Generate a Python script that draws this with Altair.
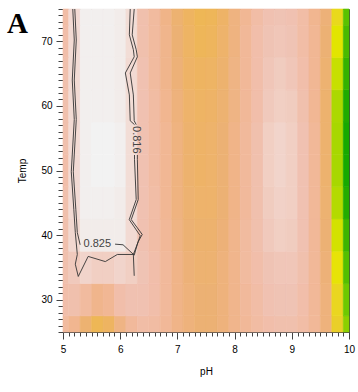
import altair as alt
import pandas as pd

# pH grid nodes (columns) and temperature nodes (rows)
ph_values = [5.0, 5.2, 5.4, 5.6, 5.8, 6.0, 6.2, 6.4, 6.6, 6.8, 7.0, 7.2, 7.4,
             7.6, 7.8, 8.0, 8.2, 8.4, 8.6, 8.8, 9.0, 9.2, 9.4, 9.6, 9.8, 10.0]
temp_values = [25, 30, 35, 40, 45, 50, 55, 60, 65, 70, 75]

# response surface, one list per temperature row
z_t25 = [.808, .804, .796, .788, .791, .801, .807, .810, .809, .806, .802, .799, .797, .797, .799, .803, .806, .809, .811, .812, .812, .810, .806, .799, .774, .742]
z_t30 = [.811, .812, .808, .803, .805, .811, .813, .813, .811, .807, .802, .799, .797, .797, .799, .803, .807, .810, .813, .814, .814, .811, .806, .799, .771, .735]
z_t35 = [.812, .816, .820, .818, .818, .820, .818, .814, .811, .807, .802, .798, .796, .796, .799, .803, .808, .811, .814, .815, .815, .812, .806, .798, .766, .725]
z_t40 = [.812, .821, .828, .828, .828, .828, .822, .813, .810, .806, .801, .797, .795, .795, .798, .803, .808, .812, .816, .818, .817, .813, .806, .797, .760, .715]
z_t45 = [.812, .822, .829, .829, .829, .828, .823, .813, .810, .805, .800, .796, .794, .794, .797, .802, .807, .812, .817, .819, .818, .813, .806, .796, .752, .706]
z_t50 = [.811, .822, .829, .830, .830, .829, .823, .813, .809, .805, .800, .795, .793, .794, .797, .802, .807, .812, .818, .820, .818, .813, .806, .795, .749, .703]
z_t55 = [.812, .822, .829, .830, .830, .829, .823, .813, .809, .805, .800, .795, .793, .794, .797, .802, .807, .812, .818, .820, .818, .813, .806, .795, .749, .703]
z_t60 = [.812, .822, .829, .829, .829, .828, .823, .813, .809, .804, .799, .794, .792, .793, .796, .801, .806, .811, .816, .818, .817, .812, .805, .795, .750, .705]
z_t65 = [.812, .822, .829, .829, .829, .828, .822, .813, .808, .803, .798, .793, .791, .792, .795, .801, .806, .811, .815, .817, .815, .811, .805, .796, .757, .712]
z_t70 = [.811, .822, .829, .829, .829, .828, .823, .812, .808, .803, .797, .792, .789, .790, .794, .800, .806, .811, .814, .815, .814, .810, .805, .797, .764, .720]
z_t75 = [.810, .822, .829, .829, .829, .828, .823, .812, .808, .802, .796, .791, .788, .789, .793, .800, .805, .810, .813, .814, .813, .810, .804, .798, .770, .728]
z_rows = [z_t25, z_t30, z_t35, z_t40, z_t45, z_t50, z_t55, z_t60, z_t65, z_t70, z_t75]

# contour polylines (pH, Temp)
c816_a_ph = [5.171, 5.197, 5.162, 5.197, 5.145, 5.189, 5.215, 5.25, 5.215, 5.267, 5.44, 5.74, 5.95, 6.23, 6.245]
c816_a_t = [75, 70.2, 64.0, 57.9, 49.8, 44.0, 40.4, 37.0, 35.5, 33.6, 36.7, 35.9, 37.0, 37.0, 33.7]
c816_b_ph = [6.23, 6.316, 6.385, 6.193, 6.315, 6.30, 6.30]
c816_b_t = [37.0, 39.0, 40.1, 42.4, 45.5, 51.7, 52.4]
c816_c_ph = [6.28, 6.245, 6.23, 6.175, 6.30, 6.28, 6.21, 6.245]
c816_c_t = [57.1, 57.7, 61.7, 65.1, 67.6, 68.7, 71.0, 75]
c825_a_ph = [5.206, 5.232, 5.197, 5.232, 5.18, 5.224, 5.25, 5.30]
c825_a_t = [75, 70.2, 64.0, 57.9, 49.8, 44.0, 40.4, 38.5]
c825_b_ph = [5.91, 6.05, 6.245, 6.30, 6.35, 6.158, 6.28, 6.25, 6.25]
c825_b_t = [38.6, 38.5, 36.9, 38.6, 39.9, 42.4, 45.5, 51.7, 52.4]
c825_c_ph = [6.25, 6.175, 6.16, 6.09, 6.245, 6.23, 6.16, 6.175]
c825_c_t = [57.1, 57.7, 61.7, 65.1, 67.6, 68.7, 71.0, 75]

labels_text = ["0.825", "0.816"]
labels_ph = [5.60, 6.28]
labels_t = [38.55, 54.75]

x_ticks = [round(5 + i * 0.1, 1) for i in range(51)]
y_ticks = list(range(25, 76))

# build tables
rows = []
for t, zr in zip(temp_values, z_rows):
    for p, z in zip(ph_values, zr):
        rows.append({
            "ph": max(5.0, p - 0.1), "ph_hi": min(10.0, p + 0.1),
            "temp": max(25.0, t - 2.5), "temp_hi": min(75.0, t + 2.5), "z": z,
        })
grid = pd.DataFrame(rows)

segs = []
for name, phs, ts in [("816a", c816_a_ph, c816_a_t), ("816b", c816_b_ph, c816_b_t),
                      ("816c", c816_c_ph, c816_c_t), ("825a", c825_a_ph, c825_a_t),
                      ("825b", c825_b_ph, c825_b_t), ("825c", c825_c_ph, c825_c_t)]:
    for i, (p, t) in enumerate(zip(phs, ts)):
        segs.append({"seg": name, "i": i, "ph": p, "temp": t})
cont = pd.DataFrame(segs)

lab = pd.DataFrame({"text": labels_text, "ph": labels_ph, "temp": labels_t})

xs = alt.Scale(domain=[5, 10], nice=False, zero=False)
ys = alt.Scale(domain=[25, 75], nice=False, zero=False)
cs = alt.Scale(domain=[0.700, 0.7325, 0.765, 0.78125, 0.7975, 0.81375, 0.830],
               range=["#00A600", "#63C600", "#E6E600", "#E9BD3A", "#ECB176", "#EFC2B3", "#F2F2F2"],
               clamp=True)

x_axis = alt.Axis(
    values=x_ticks, title="pH", grid=False, labelOverlap=False, labelFlush=False,
    labelExpr="datum.value % 1 === 0 ? format(datum.value, 'd') : ''",
    tickSize={"condition": {"test": "datum.value % 1 === 0", "value": 7}, "value": 4},
    labelPadding=5, titlePadding=12,
)
y_axis = alt.Axis(
    values=y_ticks, title="Temp", grid=False, labelOverlap=False, labelFlush=False,
    labelExpr="datum.value % 10 === 0 ? format(datum.value, 'd') : ''",
    tickSize={"condition": {"test": "datum.value % 10 === 0", "value": 7}, "value": 5},
    labelPadding=4, titlePadding=13,
)

X = alt.X("ph:Q", scale=xs, axis=x_axis, title="pH")
Y = alt.Y("temp:Q", scale=ys, axis=y_axis, title="Temp")

heat = alt.Chart(grid).mark_rect(strokeWidth=0.6).encode(
    x=X, x2="ph_hi:Q", y=Y, y2="temp_hi:Q",
    color=alt.Color("z:Q", scale=cs, legend=None),
    stroke=alt.Stroke("z:Q", scale=cs, legend=None),
)

lines = alt.Chart(cont).mark_line(color="#333333", strokeWidth=0.9).encode(
    x=X, y=Y, detail="seg:N", order="i:Q",
)

txt0 = alt.Chart(lab.iloc[[0]]).mark_text(font="Liberation Sans", fontSize=11, color="#444444",
                                          angle=0).encode(x=X, y=Y, text="text:N")
txt1 = alt.Chart(lab.iloc[[1]]).mark_text(font="Liberation Sans", fontSize=11, color="#444444",
                                          angle=90).encode(x=X, y=Y, text="text:N")

panel = alt.Chart(pd.DataFrame({"t": ["A"]})).mark_text(
    font="Liberation Serif", fontWeight="bold", fontSize=29, align="left",
    baseline="alphabetic", color="#000000").encode(
    x=alt.value(-56), y=alt.value(24), text="t:N")

chart = alt.layer(heat, lines, txt0, txt1, panel).properties(
    width=286, height=323,
    autosize=alt.AutoSizeParams(type="none"),
    padding={"left": 63, "top": 9, "right": 9, "bottom": 60},
).configure_view(stroke="#444444", strokeWidth=1).configure_axis(
    labelFont="Liberation Sans", labelFontSize=10, labelColor="#000000",
    titleFont="Liberation Sans", titleFontSize=10, titleFontWeight="normal", titleColor="#000000",
    tickColor="#444444", domainColor="#444444",
)

chart.save("out.html", embed_options={"renderer": "svg", "actions": False})
